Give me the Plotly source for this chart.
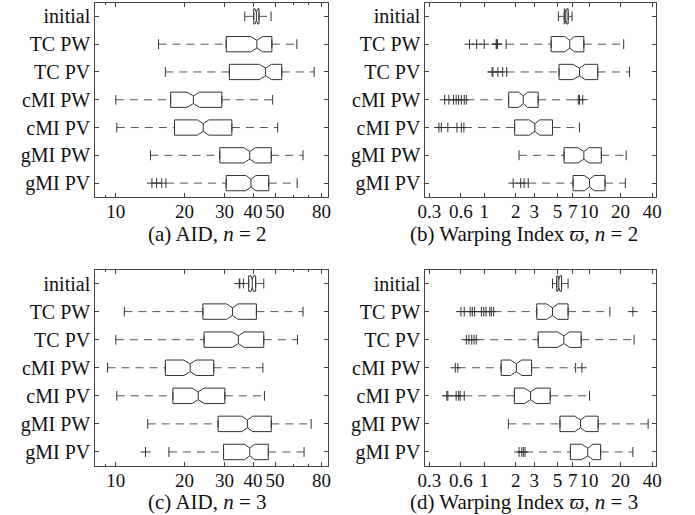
import math
import plotly.graph_objects as go

categories = ["initial", "TC PW", "TC PV", "cMI PW", "cMI PV", "gMI PW", "gMI PV"]

# ---- (a) AID, n = 2 ----
a_low = [36.8, 15.4, 16.5, 10.0, 10.1, 14.2, 16.6]
a_q1 = [40.3, 30.5, 31.5, 17.4, 18.1, 28.6, 30.5]
a_med = [41.4, 41.6, 45.4, 21.9, 24.2, 38.7, 39.2]
a_q3 = [42.5, 48.4, 53.5, 29.2, 32.3, 48.1, 46.9]
a_high = [48.0, 62.3, 74.2, 48.8, 51.3, 66.3, 62.5]
a_notch = [0.6, 2.5, 2.8, 1.4, 1.4, 2.3, 2.0]
a_out = [[], [], [], [], [], [], [14.4, 15.1, 15.9]]

# ---- (b) Warping index, n = 2 ----
b_low = [5.10, 1.62, 1.64, 0.675, 0.64, 2.15, 2.63]
b_q1 = [5.80, 4.35, 5.17, 1.71, 1.95, 5.78, 7.04]
b_med = [6.00, 6.55, 8.11, 2.36, 3.04, 8.92, 10.1]
b_q3 = [6.32, 8.92, 12.1, 3.27, 4.48, 13.1, 14.2]
b_high = [6.89, 21.4, 24.3, 7.9, 8.1, 22.6, 22.2]
b_notch = [0.15, 0.7, 1.1, 0.23, 0.35, 1.1, 1.1]
b_out = [[], [0.724, 0.848, 1.0, 1.30, 1.32, 1.34], [1.19, 1.21, 1.35, 1.50],
         [0.42, 0.46, 0.51, 0.54, 0.57, 0.605, 0.645, 8.1, 8.7],
         [0.37, 0.39, 0.45, 0.55, 0.605], [], [1.89, 2.23, 2.40]]

# ---- (c) AID, n = 3 ----
c_low = [36.3, 10.9, 10.0, 9.2, 10.1, 13.8, 17.1]
c_q1 = [38.3, 24.1, 24.4, 16.5, 17.8, 28.1, 29.7]
c_med = [39.7, 32.5, 34.5, 21.2, 23.0, 37.8, 38.7]
c_q3 = [41.1, 41.4, 44.6, 26.9, 30.1, 48.1, 46.7]
c_high = [44.6, 66.3, 62.7, 44.2, 44.9, 72.0, 67.0]
c_notch = [0.5, 1.9, 2.1, 1.3, 1.4, 2.1, 2.0]
c_out = [[34.8, 35.0], [], [], [], [], [], [13.5]]

# ---- (d) Warping index, n = 3 ----
d_low = [4.48, 1.23, 0.84, 0.56, 0.645, 1.70, 2.45]
d_q1 = [4.92, 3.17, 3.27, 1.45, 1.94, 5.28, 6.64]
d_med = [5.15, 4.48, 5.75, 2.03, 2.77, 8.30, 9.72]
d_q3 = [5.47, 6.31, 8.42, 2.83, 4.26, 12.2, 12.9]
d_high = [6.31, 15.8, 26.9, 7.45, 10.1, 36.6, 26.2]
d_notch = [0.12, 0.55, 0.75, 0.25, 0.35, 1.0, 1.2]
d_out = [[], [0.60, 0.645, 0.735, 0.77, 0.81, 0.94, 0.99, 1.04, 1.13, 1.17, 26.2],
         [0.675, 0.714, 0.76, 0.80], [0.53, 8.55],
         [0.44, 0.45, 0.54, 0.57, 0.59], [], [2.15, 2.28, 2.36]]

aid_ticks = [10, 20, 30, 40, 50, 80]
aid_minor = [9, 60, 70]
wi_ticks = [0.3, 0.6, 1, 2, 3, 5, 7, 10, 20, 40]

captions = ["(a) AID, <i>n</i> = 2", "(b) Warping Index <i>ϖ</i>, <i>n</i> = 2",
            "(c) AID, <i>n</i> = 3", "(d) Warping Index <i>ϖ</i>, <i>n</i> = 3"]

W, H = 695, 515
FONT = "Liberation Serif, Times New Roman, serif"
LINE = "#333333"
WHISK = "#555555"

panels = [
    dict(low=a_low, q1=a_q1, med=a_med, q3=a_q3, high=a_high, notch=a_notch, out=a_out,
         xr=(8.12, 85.7), ticks=aid_ticks, minor=aid_minor, px=(89, 327), py=(2.5, 197)),
    dict(low=b_low, q1=b_q1, med=b_med, q3=b_q3, high=b_high, notch=b_notch, out=b_out,
         xr=(0.275, 43.2), ticks=wi_ticks, minor=[], px=(426, 661), py=(2.5, 197)),
    dict(low=c_low, q1=c_q1, med=c_med, q3=c_q3, high=c_high, notch=c_notch, out=c_out,
         xr=(8.12, 85.7), ticks=aid_ticks, minor=aid_minor, px=(89, 327), py=(269.5, 466)),
    dict(low=d_low, q1=d_q1, med=d_med, q3=d_q3, high=d_high, notch=d_notch, out=d_out,
         xr=(0.275, 43.2), ticks=wi_ticks, minor=[], px=(426, 661), py=(269.5, 466)),
]
caption_pos = [(204, 234), (527, 234), (204, 502), (527, 502)]

fig = go.Figure()
layout = dict(width=W, height=H, margin=dict(l=0, r=0, t=0, b=0),
              paper_bgcolor="white", plot_bgcolor="white", showlegend=False,
              font=dict(family=FONT, size=19, color="#111111"))

for i, p in enumerate(panels):
    k = i + 1
    xa = "x" if k == 1 else f"x{k}"
    ya = "y" if k == 1 else f"y{k}"
    fig.add_trace(go.Box(
        y=categories, q1=p["q1"], median=p["med"], q3=p["q3"],
        lowerfence=p["q1"], upperfence=p["q3"], notchspan=p["notch"],
        notched=True, notchwidth=0.25, orientation="h", width=0.55,
        boxpoints=False, fillcolor="white", line=dict(color=LINE, width=1),
        xaxis=xa, yaxis=ya, hoverinfo="skip"))
    wx, wy = [], []
    for c, lo, q1, q3, hi in zip(categories, p["low"], p["q1"], p["q3"], p["high"]):
        wx += [lo, q1, None, q3, hi, None]
        wy += [c, c, None, c, c, None]
    fig.add_trace(go.Scatter(x=wx, y=wy, mode="lines", xaxis=xa, yaxis=ya,
                             line=dict(color=WHISK, width=1, dash="8px,6px"), hoverinfo="skip"))
    fig.add_trace(go.Scatter(x=p["low"] + p["high"], y=categories + categories, mode="markers",
                             xaxis=xa, yaxis=ya, hoverinfo="skip",
                             marker=dict(symbol="line-ns", size=7, color=LINE,
                                         line=dict(color=LINE, width=1))))
    ox, oy = [], []
    for c, vals in zip(categories, p["out"]):
        ox += vals
        oy += [c] * len(vals)
    fig.add_trace(go.Scatter(x=ox, y=oy, mode="markers", xaxis=xa, yaxis=ya, hoverinfo="skip",
                             marker=dict(symbol="cross-thin", size=7, color=LINE,
                                         line=dict(color=LINE, width=1))))
    x0, x1 = p["px"]
    y0, y1 = p["py"]
    xkey = "xaxis" if k == 1 else f"xaxis{k}"
    ykey = "yaxis" if k == 1 else f"yaxis{k}"
    layout[xkey] = dict(
        type="log", domain=[x0 / W, x1 / W], anchor=ya,
        range=[math.log10(p["xr"][0]), math.log10(p["xr"][1])],
        tickvals=p["ticks"], ticktext=[str(t) for t in p["ticks"]], tickangle=0,
        ticks="inside", ticklen=4, tickcolor="#444", showline=True, linecolor="#444",
        linewidth=1, mirror="ticks", showgrid=False, zeroline=False,
        ticklabelstandoff=-3,
        tickfont=dict(size=19, family=FONT, color="#111"),
        minor=dict(tickvals=p["minor"], ticks="inside", ticklen=2, tickcolor="#444", showgrid=False),
    )
    layout[ykey] = dict(
        type="category", categoryorder="array", categoryarray=categories,
        domain=[1 - y1 / H, 1 - y0 / H], anchor=xa, range=[6.5, -0.5],
        ticks="inside", ticklen=4, tickcolor="#444", showline=True, linecolor="#444",
        linewidth=1, mirror="ticks", showgrid=False, zeroline=False,
        tickfont=dict(size=20, family=FONT, color="#111"),
    )

annotations = []
for text, (cx, cy) in zip(captions, caption_pos):
    annotations.append(dict(text=text, x=cx / W, y=1 - cy / H, xref="paper", yref="paper",
                            xanchor="center", yanchor="middle", showarrow=False,
                            font=dict(family=FONT, size=21, color="#111")))
layout["annotations"] = annotations
fig.update_layout(**layout)
fig.write_html("out.html")
